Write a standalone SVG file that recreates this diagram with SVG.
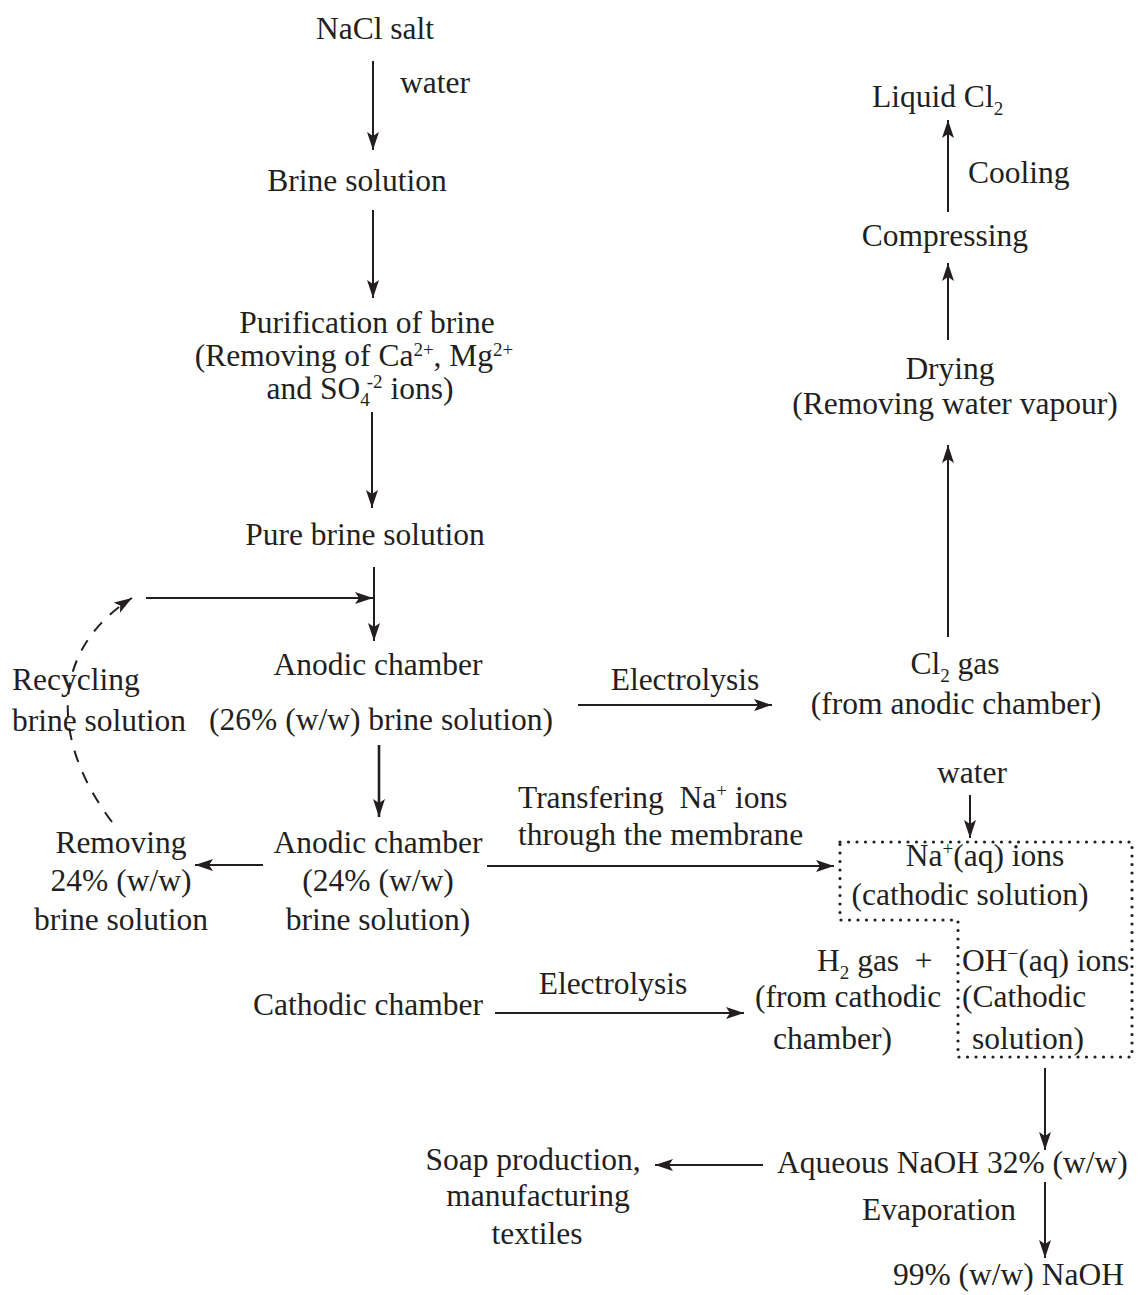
<svg xmlns="http://www.w3.org/2000/svg" width="1139" height="1295" viewBox="0 0 1139 1295">
<defs>
<marker id="ah" markerUnits="userSpaceOnUse" markerWidth="20" markerHeight="14" refX="18" refY="6" orient="auto">
<path d="M0,0 L18,6 L0,12 L4,6 z" fill="#231f20"/>
</marker>
<style>
text{font-family:"Liberation Serif","Times New Roman",serif;font-size:31.5px;fill:#231f20}
.m{text-anchor:middle}
.s{font-size:19px}
.c{stroke:#231f20;stroke-width:2;fill:none;marker-end:url(#ah)}
.d{stroke-dasharray:12 11}
.box{fill:none;stroke:#231f20;stroke-width:3.2;stroke-linecap:round;stroke-dasharray:0 8.5}
</style>
</defs>
<rect width="1139" height="1295" fill="#fff"/>
<g id="connectors">
<line class="c" x1="373" y1="61" x2="373" y2="150"/>
<line class="c" x1="373" y1="210" x2="373" y2="298"/>
<line class="c" x1="372" y1="412" x2="372" y2="508"/>
<line class="c" x1="374" y1="567" x2="374" y2="641"/>
<line class="c" x1="146" y1="598" x2="373" y2="598"/>
<path class="c d" d="M112,822 C50,740 50,650 132,598"/>
<line class="c" style="stroke-width:2.6" x1="379" y1="745" x2="379" y2="817"/>
<line class="c" x1="263" y1="865" x2="195" y2="865"/>
<line class="c" x1="487" y1="866" x2="834" y2="866"/>
<line class="c" x1="578" y1="705" x2="772" y2="705"/>
<line class="c" x1="948" y1="637" x2="948" y2="445"/>
<line class="c" x1="948" y1="340" x2="948" y2="263"/>
<line class="c" x1="948" y1="212" x2="948" y2="120"/>
<line class="c" x1="970" y1="795" x2="970" y2="838"/>
<line class="c" x1="495" y1="1013" x2="744" y2="1013"/>
<line class="c" x1="1045" y1="1068" x2="1045" y2="1150"/>
<line class="c" x1="763" y1="1165" x2="655" y2="1165"/>
<line class="c" x1="1045" y1="1182" x2="1045" y2="1258"/>
<polygon class="box" points="840,842 1132,842 1132,1057 958,1057 958,920 840,920"/>
</g>
<g id="nacl"><text class="m" x="375" y="39">NaCl salt</text></g>
<g id="water1"><text x="400" y="93">water</text></g>
<g id="brine"><text class="m" x="357" y="191">Brine solution</text></g>
<g id="purification">
<text class="m" x="367" y="333">Purification of brine</text>
<text class="m" x="354" y="366">(Removing of Ca<tspan class="s" dy="-10">2+</tspan><tspan dy="10">, Mg</tspan><tspan class="s" dy="-10">2+</tspan></text>
<text class="m" x="360" y="399">and SO<tspan class="s" dy="7">4</tspan><tspan class="s" dx="-3" dy="-18">-2</tspan><tspan dy="11"> ions)</tspan></text>
</g>
<g id="pure"><text class="m" x="365" y="545">Pure brine solution</text></g>
<g id="anodic26">
<text class="m" x="378" y="675">Anodic chamber</text>
<text class="m" x="381" y="730">(26% (w/w) brine solution)</text>
</g>
<g id="recycling">
<text x="12" y="690">Recycling</text>
<text x="12" y="731">brine solution</text>
</g>
<g id="electrolysis1"><text class="m" x="685" y="690">Electrolysis</text></g>
<g id="cl2gas">
<text class="m" x="955" y="674">Cl<tspan class="s" dy="8">2</tspan><tspan dy="-8"> gas</tspan></text>
<text class="m" x="956" y="714">(from anodic chamber)</text>
</g>
<g id="drying">
<text class="m" x="950" y="379">Drying</text>
<text class="m" x="955" y="414">(Removing water vapour)</text>
</g>
<g id="compressing"><text class="m" x="945" y="246">Compressing</text></g>
<g id="cooling"><text x="968" y="183">Cooling</text></g>
<g id="liquid"><text x="872" y="107">Liquid Cl<tspan class="s" dy="8">2</tspan></text></g>
<g id="anodic24">
<text class="m" x="378" y="853">Anodic chamber</text>
<text class="m" x="378" y="891">(24% (w/w)</text>
<text class="m" x="378" y="930">brine solution)</text>
</g>
<g id="removing">
<text class="m" x="121" y="853">Removing</text>
<text class="m" x="121" y="891">24% (w/w)</text>
<text class="m" x="121" y="930">brine solution</text>
</g>
<g id="transfer">
<text x="518" y="808">Transfering&#160; Na<tspan class="s" dy="-11">+</tspan><tspan dy="11"> ions</tspan></text>
<text x="518" y="845">through the membrane</text>
</g>
<g id="water2"><text class="m" x="972" y="783">water</text></g>
<g id="naions">
<text class="m" x="985" y="866">Na<tspan class="s" dy="-11">+</tspan><tspan dy="11">(aq) ions</tspan></text>
<text class="m" x="970" y="905">(cathodic solution)</text>
</g>
<g id="h2gas">
<text x="817" y="971">H<tspan class="s" dy="8">2</tspan><tspan dy="-8"> gas&#160; +</tspan></text>
<text x="755" y="1007">(from cathodic</text>
<text x="773" y="1049">chamber)</text>
</g>
<g id="ohions">
<text x="962" y="971">OH<tspan class="s" dy="-11">−</tspan><tspan dy="11">(aq) ions</tspan></text>
<text x="962" y="1007">(Cathodic</text>
<text x="972" y="1049">solution)</text>
</g>
<g id="cathodic"><text x="253" y="1015">Cathodic chamber</text></g>
<g id="electrolysis2"><text class="m" x="613" y="994">Electrolysis</text></g>
<g id="naoh32"><text x="777" y="1173">Aqueous NaOH 32% (w/w)</text></g>
<g id="soap">
<text class="m" x="533" y="1170">Soap production,</text>
<text class="m" x="538" y="1206">manufacturing</text>
<text class="m" x="537" y="1244">textiles</text>
</g>
<g id="evaporation"><text x="862" y="1220">Evaporation</text></g>
<g id="naoh99"><text x="893" y="1285">99% (w/w) NaOH</text></g>
</svg>
